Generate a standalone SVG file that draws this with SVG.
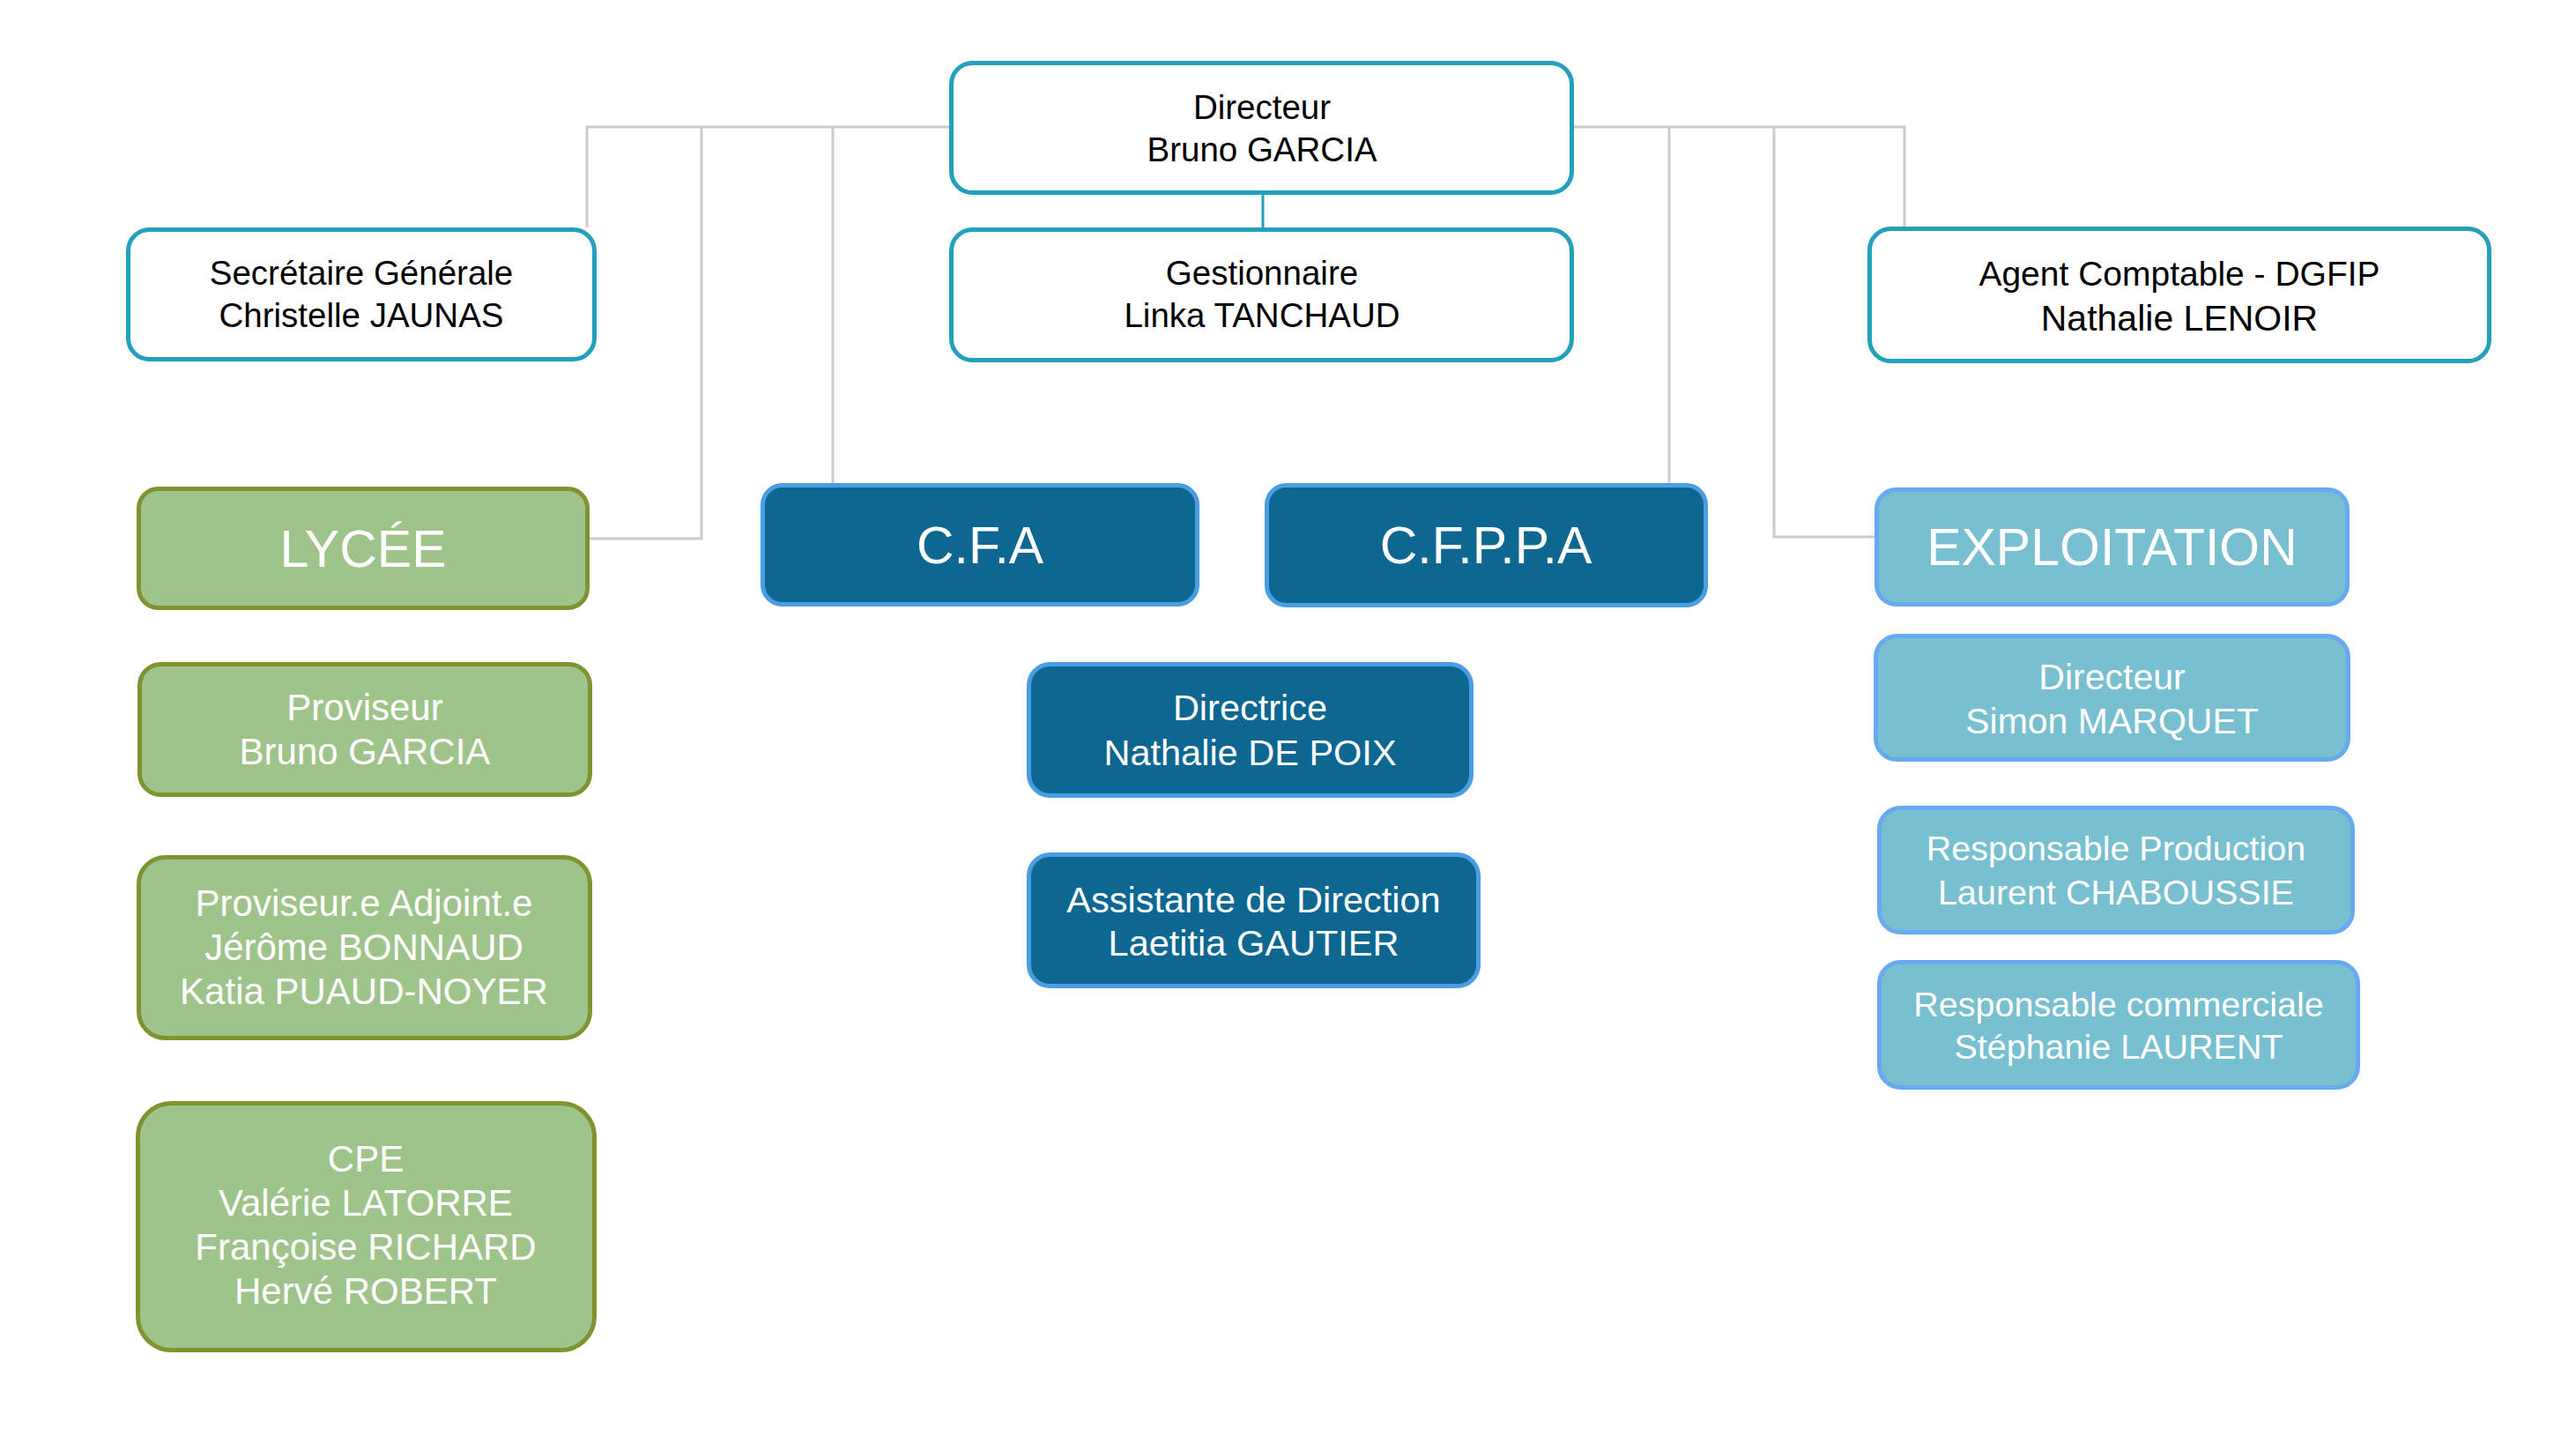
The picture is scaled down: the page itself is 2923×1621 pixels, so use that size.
<svg xmlns="http://www.w3.org/2000/svg" width="2923" height="1621" viewBox="0 0 2923 1621">
<style>
  text { font-family: "Liberation Sans", Arial, sans-serif; text-anchor: middle; }
  .top rect { fill: #ffffff; stroke: #22A0BC; stroke-width: 5; }
  .top text { fill: #000000; font-size: 38.5px; }
  .green rect { fill: #9EC48C; stroke: #7E9430; stroke-width: 5; }
  .green text { fill: #ffffff; font-size: 42px; }
  .dark rect { fill: #0D6791; stroke: #4A9DE2; stroke-width: 5; }
  .dark text { fill: #ffffff; font-size: 41.5px; }
  .light rect { fill: #78BFD0; stroke: #68AAF0; stroke-width: 5; }
  .light text { fill: #ffffff; font-size: 39.5px; }
  .head text { font-size: 59px; }
  .conn { fill: none; stroke: #CCCCCC; stroke-width: 3; }
</style>
<rect width="2923" height="1621" fill="#ffffff"/>
<g id="connectors">
  <path class="conn" d="M666 258 V144 H1078 M1786 144 H2161 V257"/>
  <path class="conn" d="M796 144 V611 H669"/>
  <path class="conn" d="M945 144 V548"/>
  <path class="conn" d="M1894 144 V548"/>
  <path class="conn" d="M2013 144 V609 H2127"/>
  <path d="M1433 221 V258" fill="none" stroke="#22A0BC" stroke-width="3"/>
</g>
<g id="directeur" class="top">
  <rect x="1079.5" y="71.5" width="704" height="147" rx="24"/>
  <text x="1432" y="135">Directeur</text>
  <text x="1432" y="183">Bruno GARCIA</text>
</g>
<g id="secretaire" class="top">
  <rect x="145.5" y="260.5" width="529" height="147" rx="24"/>
  <text x="410" y="323">Secrétaire Générale</text>
  <text x="410" y="371">Christelle JAUNAS</text>
</g>
<g id="gestionnaire" class="top">
  <rect x="1079.5" y="260.5" width="704" height="148" rx="24"/>
  <text x="1432" y="323">Gestionnaire</text>
  <text x="1432" y="371">Linka TANCHAUD</text>
</g>
<g id="agent" class="top">
  <rect x="2121.5" y="259.5" width="703" height="150" rx="24"/>
  <text x="2473" y="324" style="font-size:39px">Agent Comptable - DGFIP</text>
  <text x="2473" y="375" style="font-size:41px">Nathalie LENOIR</text>
</g>
<g id="lycee" class="green head">
  <rect x="157.5" y="554.5" width="509" height="135" rx="22"/>
  <text x="412" y="643">LYCÉE</text>
</g>
<g id="proviseur" class="green">
  <rect x="158.5" y="753.5" width="511" height="148" rx="24"/>
  <text x="414" y="817">Proviseur</text>
  <text x="414" y="867">Bruno GARCIA</text>
</g>
<g id="adjoint" class="green">
  <rect x="157.5" y="972.5" width="512" height="205" rx="30"/>
  <text x="413" y="1039">Proviseur.e Adjoint.e</text>
  <text x="413" y="1089">Jérôme BONNAUD</text>
  <text x="413" y="1139">Katia PUAUD-NOYER</text>
</g>
<g id="cpe" class="green">
  <rect x="156.5" y="1251.5" width="518" height="280" rx="38"/>
  <text x="415" y="1329">CPE</text>
  <text x="415" y="1379">Valérie LATORRE</text>
  <text x="415" y="1429">Françoise RICHARD</text>
  <text x="415" y="1479">Hervé ROBERT</text>
</g>
<g id="cfa" class="dark head">
  <rect x="865.5" y="550.5" width="493" height="135" rx="22"/>
  <text x="1112" y="639">C.F.A</text>
</g>
<g id="cfppa" class="dark head">
  <rect x="1437.5" y="550.5" width="498" height="136" rx="22"/>
  <text x="1686" y="639">C.F.P.P.A</text>
</g>
<g id="directrice" class="dark">
  <rect x="1167.5" y="753.5" width="502" height="149" rx="24"/>
  <text x="1418.5" y="817">Directrice</text>
  <text x="1418.5" y="868">Nathalie DE POIX</text>
</g>
<g id="assistante" class="dark">
  <rect x="1167.5" y="969.5" width="510" height="149" rx="24"/>
  <text x="1422.5" y="1035">Assistante de Direction</text>
  <text x="1422.5" y="1084">Laetitia GAUTIER</text>
</g>
<g id="exploitation" class="light head">
  <rect x="2129.5" y="555.5" width="534" height="130" rx="22"/>
  <text x="2396.5" y="641">EXPLOITATION</text>
</g>
<g id="directeur-expl" class="light">
  <rect x="2128.5" y="721.5" width="536" height="140" rx="24"/>
  <text x="2396.5" y="782" style="font-size:41px">Directeur</text>
  <text x="2396.5" y="832" style="font-size:41px">Simon MARQUET</text>
</g>
<g id="resp-prod" class="light">
  <rect x="2132.5" y="916.5" width="537" height="141" rx="24"/>
  <text x="2401" y="976">Responsable Production</text>
  <text x="2401" y="1026">Laurent CHABOUSSIE</text>
</g>
<g id="resp-comm" class="light">
  <rect x="2132.5" y="1091.5" width="543" height="142" rx="24"/>
  <text x="2404" y="1153">Responsable commerciale</text>
  <text x="2404" y="1201">Stéphanie LAURENT</text>
</g>
</svg>
